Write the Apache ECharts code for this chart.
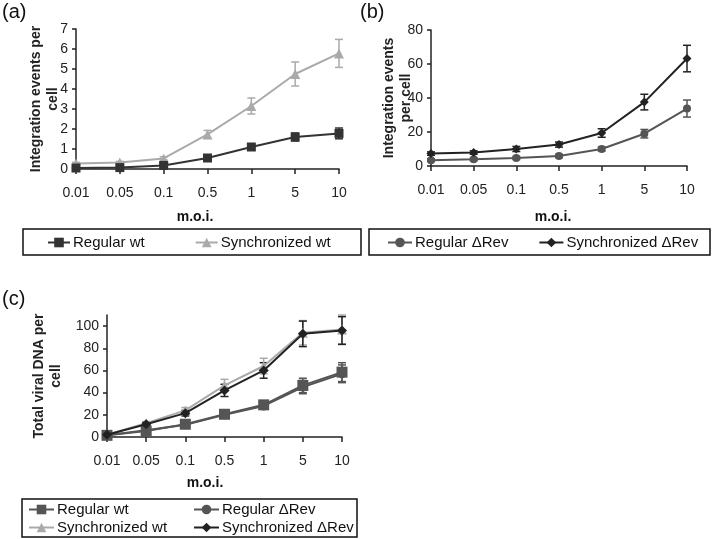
<!DOCTYPE html>
<html>
<head>
<meta charset="utf-8">
<script src="https://cdn.jsdelivr.net/npm/echarts@6/dist/echarts.min.js"></script>
<style>
html,body{margin:0;padding:0;background:#fff;}
#chart{width:720px;height:539px;}
</style>
</head>
<body>
<div id="chart"></div>
<script>
// ---- data ----
const moi = ['0.01', '0.05', '0.1', '0.5', '1', '5', '10'];

// (a) integration events per cell
const aRegularWt = [0.05, 0.07, 0.18, 0.55, 1.1, 1.6, 1.78];
const aRegularWtErr = [0.03, 0.03, 0.06, 0.08, 0.12, 0.2, 0.27];
const aSyncWt = [0.28, 0.33, 0.53, 1.73, 3.15, 4.75, 5.78];
const aSyncWtErr = [0.05, 0.05, 0.08, 0.2, 0.4, 0.6, 0.7];

// (b) integration events per cell
const bRegularRev = [3.4, 3.9, 4.7, 5.9, 10, 19, 33.8];
const bRegularRevErr = [0.8, 0.8, 0.9, 1, 1.2, 2.5, 5];
const bSyncRev = [7.3, 7.9, 10, 12.6, 19.4, 37.6, 63.2];
const bSyncRevErr = [1, 1, 1.5, 1.5, 2.5, 4.6, 7.8];

// (c) total viral DNA per cell
const cRegularWt = [1.5, 5.5, 11.5, 20.5, 29, 46.5, 58.5];
const cRegularWtErr = [0.5, 1, 1.5, 2, 3, 6.5, 8.5];
const cRegularRev = [1.5, 6, 11, 20, 28, 45, 57];
const cRegularRevErr = [0.5, 1, 1.5, 2, 3, 6, 8];
const cSyncWt = [2, 12.5, 24, 46.5, 64, 94, 97];
const cSyncWtErr = [0.5, 1.5, 2.5, 5.5, 7, 11, 13];
const cSyncRev = [2, 11.5, 21.5, 42, 60, 93, 96];
const cSyncRevErr = [0.5, 1.5, 2.5, 5.5, 7, 11.5, 12.5];

const yTicksA = {min: 0, max: 7, interval: 1};
const yTicksB = {min: 0, max: 80, interval: 20};
const yTicksC = {min: 0, max: 110, interval: 20};

// ---- helpers ----
const FONT = 'Liberation Sans';

function errData(vals, errs) {
  return vals.map((v, i) => [i, v - errs[i], v + errs[i]]);
}

function errSeries(name, vals, errs, color, gi) {
  return {
    type: 'custom',
    name: name + ' err',
    xAxisIndex: gi, yAxisIndex: gi,
    silent: true,
    z: 3,
    data: errData(vals, errs),
    renderItem: function (params, api) {
      const x = api.value(0);
      const lo = api.coord([x, api.value(1)]);
      const hi = api.coord([x, api.value(2)]);
      const w = 4;
      const st = {stroke: color, lineWidth: 1.5};
      return {
        type: 'group',
        children: [
          {type: 'line', shape: {x1: lo[0], y1: lo[1], x2: hi[0], y2: hi[1]}, style: st},
          {type: 'line', shape: {x1: lo[0] - w, y1: lo[1], x2: lo[0] + w, y2: lo[1]}, style: st},
          {type: 'line', shape: {x1: hi[0] - w, y1: hi[1], x2: hi[0] + w, y2: hi[1]}, style: st}
        ]
      };
    }
  };
}

function lineSeries(name, vals, color, symbol, size, gi, z) {
  return {
    type: 'line',
    name: name,
    xAxisIndex: gi, yAxisIndex: gi,
    data: vals,
    symbol: symbol,
    symbolSize: size,
    showSymbol: true,
    z: z || 4,
    itemStyle: {color: color},
    lineStyle: {color: color, width: 2},
    emphasis: {disabled: true}
  };
}

function xAxisCfg(gi) {
  return {
    type: 'category', gridIndex: gi, data: moi, boundaryGap: false,
    axisLine: {lineStyle: {color: '#222', width: 1.5}},
    axisTick: {show: true, length: 5, lineStyle: {color: '#222', width: 1.5}},
    axisLabel: {color: '#222', fontSize: 14, fontFamily: FONT, margin: 17},
    splitLine: {show: false}
  };
}

function yAxisCfg(gi, t, name, gap) {
  return {
    type: 'value', gridIndex: gi, min: t.min, max: t.max, interval: t.interval,
    name: name, nameLocation: 'middle', nameGap: gap, nameMoveOverlap: false,
    nameTextStyle: {fontFamily: FONT, fontWeight: 'bold', fontSize: 14, color: '#222', lineHeight: 17},
    axisLine: {show: true, lineStyle: {color: '#222', width: 1.5}},
    axisTick: {show: true, length: 4, lineStyle: {color: '#222', width: 1.5}},
    axisLabel: {color: '#222', fontSize: 14, fontFamily: FONT, margin: 8, showMaxLabel: t.max % t.interval === 0},
    splitLine: {show: false}
  };
}

const legendText = {fontFamily: FONT, fontSize: 15, color: '#111', padding: [0, 0, 0, -2]};

const chart = echarts.init(document.getElementById('chart'), null, {renderer: 'canvas'});

const option = {
  animation: false,
  backgroundColor: '#fff',
  grid: [
    {left: 76, top: 29, width: 263, height: 140},
    {left: 431, top: 30, width: 256, height: 136},
    {left: 107, top: 315, width: 235, height: 122}
  ],
  xAxis: [xAxisCfg(0), xAxisCfg(1), xAxisCfg(2)],
  yAxis: [
    yAxisCfg(0, yTicksA, 'Integration events per\ncell', 14),
    yAxisCfg(1, yTicksB, 'Integration events\nper cell', 16),
    yAxisCfg(2, yTicksC, 'Total viral DNA per\ncell', 42)
  ],
  legend: [
    {left: 47, top: 235, padding: 0, itemGap: 50, itemWidth: 22, itemHeight: 12,
     data: ['Regular wt', 'Synchronized wt'], textStyle: legendText, selectedMode: false},
    {left: 387, top: 235, padding: 0, itemGap: 30, itemWidth: 24, itemHeight: 12,
     data: ['Regular ΔRev', 'Synchronized ΔRev'], textStyle: legendText, selectedMode: false},
    {left: 28, top: 502, padding: 0, orient: 'vertical', itemGap: 3, itemWidth: 25, itemHeight: 12,
     data: ['Regular wt ', 'Synchronized wt '], textStyle: legendText, selectedMode: false},
    {left: 193, top: 502, padding: 0, orient: 'vertical', itemGap: 3, itemWidth: 25, itemHeight: 12,
     data: ['Regular ΔRev ', 'Synchronized ΔRev '], textStyle: legendText, selectedMode: false}
  ],
  graphic: [
    {type: 'text', left: 2, top: 2, style: {text: '(a)', font: '20px "Liberation Sans"', fill: '#111'}},
    {type: 'text', left: 360, top: 2, style: {text: '(b)', font: '20px "Liberation Sans"', fill: '#111'}},
    {type: 'text', left: 2, top: 289, style: {text: '(c)', font: '20px "Liberation Sans"', fill: '#111'}},
    {type: 'text', x: 195, y: 217, style: {text: 'm.o.i.', font: 'bold 14px "Liberation Sans"', fill: '#111', align: 'center', verticalAlign: 'middle'}},
    {type: 'text', x: 553, y: 217, style: {text: 'm.o.i.', font: 'bold 14px "Liberation Sans"', fill: '#111', align: 'center', verticalAlign: 'middle'}},
    {type: 'text', x: 205, y: 483, style: {text: 'm.o.i.', font: 'bold 14px "Liberation Sans"', fill: '#111', align: 'center', verticalAlign: 'middle'}},
    {type: 'rect', shape: {x: 23, y: 229, width: 338, height: 26}, style: {fill: 'none', stroke: '#111', lineWidth: 1.5}},
    {type: 'rect', shape: {x: 369, y: 229, width: 341, height: 26}, style: {fill: 'none', stroke: '#111', lineWidth: 1.5}},
    {type: 'rect', shape: {x: 22, y: 499, width: 335, height: 38}, style: {fill: 'none', stroke: '#111', lineWidth: 1.5}}
  ],
  series: [
    // (a)
    errSeries('Synchronized wt', aSyncWt, aSyncWtErr, '#aaaaaa', 0),
    errSeries('Regular wt', aRegularWt, aRegularWtErr, '#333333', 0),
    lineSeries('Synchronized wt', aSyncWt, '#aaaaaa', 'triangle', 10, 0),
    lineSeries('Regular wt', aRegularWt, '#333333', 'rect', 9, 0, 5),
    // (b)
    errSeries('Regular ΔRev', bRegularRev, bRegularRevErr, '#555555', 1),
    errSeries('Synchronized ΔRev', bSyncRev, bSyncRevErr, '#222222', 1),
    lineSeries('Regular ΔRev', bRegularRev, '#555555', 'circle', 8, 1),
    lineSeries('Synchronized ΔRev', bSyncRev, '#222222', 'diamond', 9, 1, 5),
    // (c)
    errSeries('Synchronized wt ', cSyncWt, cSyncWtErr, '#aaaaaa', 2),
    errSeries('Regular ΔRev ', cRegularRev, cRegularRevErr, '#555555', 2),
    errSeries('Regular wt ', cRegularWt, cRegularWtErr, '#555555', 2),
    errSeries('Synchronized ΔRev ', cSyncRev, cSyncRevErr, '#222222', 2),
    lineSeries('Synchronized wt ', cSyncWt, '#aaaaaa', 'triangle', 10, 2),
    lineSeries('Regular ΔRev ', cRegularRev, '#555555', 'circle', 9, 2),
    lineSeries('Regular wt ', cRegularWt, '#555555', 'rect', 11, 2),
    lineSeries('Synchronized ΔRev ', cSyncRev, '#222222', 'diamond', 10, 2, 5)
  ]
};

chart.setOption(option);
</script>
</body>
</html>
